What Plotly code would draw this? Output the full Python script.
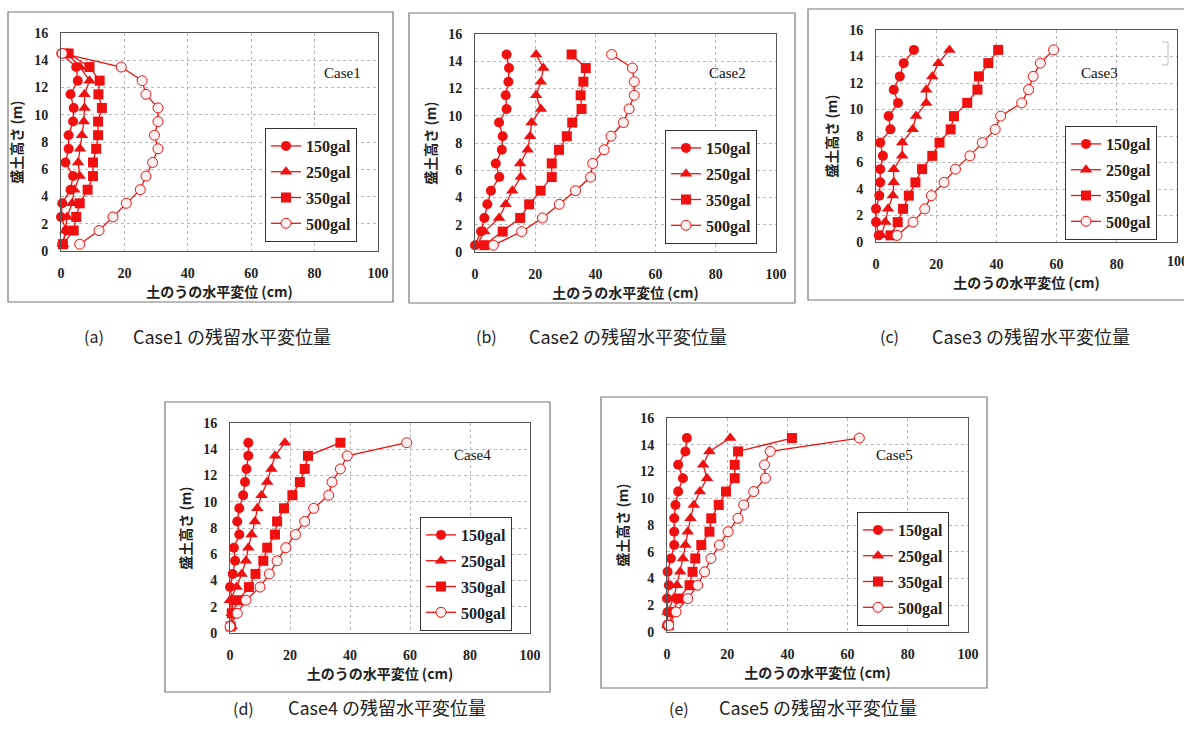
import plotly.graph_objects as go

# Height levels of the sandbag layers (m)
heights = [0.5, 1.5, 2.5, 3.5, 4.5, 5.5, 6.5, 7.5, 8.5, 9.5, 10.5, 11.5, 12.5, 13.5, 14.5]
levels = ["150gal", "250gal", "350gal", "500gal"]
case_names = ["Case1", "Case2", "Case3", "Case4", "Case5"]
panel_tags = ["(a)", "(b)", "(c)", "(d)", "(e)"]
caption_suffix = "の残留水平変位量"
x_ticks = [0, 20, 40, 60, 80, 100]
y_ticks = [0, 2, 4, 6, 8, 10, 12, 14, 16]

# Residual horizontal displacement (cm), listed from bottom layer to top layer
c1_150 = [0.4, 1.7, 0.0, 0.4, 3.0, 3.8, 1.4, 2.4, 2.4, 3.8, 4.0, 3.0, 5.3, 4.8, 0.1]
c1_250 = [0.6, 1.4, 1.9, 3.5, 4.2, 5.9, 5.4, 6.0, 6.6, 7.2, 7.4, 7.4, 9.0, 6.0, 2.0]
c1_350 = [0.6, 4.0, 4.8, 5.9, 8.4, 10.1, 10.1, 11.1, 11.7, 11.7, 12.9, 11.8, 12.2, 9.0, 2.4]
c1_500 = [5.9, 12.0, 16.4, 20.6, 25.0, 26.8, 28.9, 30.6, 29.5, 30.6, 30.6, 26.8, 25.6, 19.0, 0.4]

c2_150 = [0.0, 2.0, 3.1, 4.1, 5.3, 8.1, 6.9, 8.9, 9.2, 8.0, 10.5, 10.2, 11.1, 11.3, 10.5]
c2_250 = [0.6, 3.1, 8.0, 10.2, 12.4, 15.2, 15.0, 17.5, 18.3, 18.8, 21.9, 20.3, 21.9, 22.7, 20.3]
c2_350 = [3.1, 9.2, 15.0, 18.0, 21.8, 25.5, 25.5, 27.9, 30.5, 32.3, 35.4, 35.1, 36.0, 36.8, 32.1]
c2_500 = [6.1, 15.5, 22.4, 28.0, 33.4, 38.4, 39.1, 42.9, 45.2, 49.3, 51.2, 52.9, 52.9, 52.3, 45.4]

c3_150 = [0.9, 0.0, 0.0, 1.1, 1.4, 1.4, 2.3, 1.4, 4.8, 4.2, 7.3, 5.9, 7.9, 9.2, 12.6]
c3_250 = [1.8, 3.1, 4.0, 5.6, 5.9, 5.9, 8.7, 8.7, 12.2, 13.3, 16.7, 16.7, 18.7, 20.7, 24.4]
c3_350 = [4.8, 7.2, 9.0, 10.9, 13.1, 15.3, 18.7, 21.1, 24.8, 25.9, 30.3, 33.7, 34.2, 37.3, 40.6]
c3_500 = [7.0, 12.3, 16.2, 18.4, 22.6, 26.4, 31.2, 35.3, 39.6, 41.4, 48.4, 50.7, 52.2, 54.6, 59.0]

c4_150 = [0.4, 0.8, 0.8, 0.0, 0.9, 1.7, 1.3, 3.1, 2.4, 3.1, 4.4, 5.0, 5.5, 6.1, 6.1]
c4_250 = [0.6, 0.6, 0.0, 2.2, 3.9, 5.3, 6.1, 7.2, 8.3, 9.1, 10.5, 12.4, 13.8, 15.0, 18.3]
c4_350 = [0.2, 0.6, 2.8, 6.3, 8.5, 11.1, 12.4, 15.0, 15.7, 18.0, 20.8, 23.3, 24.9, 26.0, 36.8]
c4_500 = [0.0, 2.4, 5.3, 10.0, 13.1, 15.7, 18.6, 21.8, 24.9, 27.9, 32.9, 34.0, 36.8, 39.1, 58.9]

c5_150 = [0.0, 0.2, 0.0, 0.6, 0.2, 1.3, 2.4, 2.4, 2.4, 2.8, 3.7, 5.3, 3.7, 6.1, 6.6]
c5_250 = [0.2, 0.2, 2.2, 3.3, 4.4, 5.3, 6.1, 6.9, 7.8, 8.9, 10.9, 13.3, 12.0, 14.1, 21.0]
c5_350 = [0.6, 2.0, 3.9, 7.5, 8.5, 9.4, 11.4, 14.1, 14.7, 17.2, 19.6, 22.5, 22.5, 23.6, 41.5]
c5_500 = [0.6, 3.0, 6.9, 10.2, 12.5, 14.6, 17.4, 20.3, 23.6, 25.5, 28.8, 32.7, 32.4, 34.3, 63.9]

case_data = [
    [c1_150, c1_250, c1_350, c1_500],
    [c2_150, c2_250, c2_350, c2_500],
    [c3_150, c3_250, c3_350, c3_500],
    [c4_150, c4_250, c4_350, c4_500],
    [c5_150, c5_250, c5_350, c5_500],
]

W, H = 1184, 735
RED = "#F01010"

# Plot areas (pixel boxes: left, top, right, bottom)
plot_px = [
    (61, 33, 378, 251),
    (475, 34, 776, 252),
    (876, 30, 1177, 242),
    (230, 423, 530, 633),
    (667, 418, 968, 632),
]
# Outer frames around each panel
frame_px = [
    (8, 12, 393, 302),
    (409, 13, 795, 303),
    (808, 9, 1190, 300),
    (165, 402, 550, 692),
    (601, 397, 987, 688),
]
legend_px = [(265, 128), (665, 130), (1065, 126), (420, 517), (857, 512)]
case_label_px = [(322, 63), (727, 63), (1120, 63), (472, 455), (915, 455)]
caption_px = [(82, 131, 336), (474, 527, 336), (878, 930, 336), (231, 286, 722), (667, 717, 722)]

marker_styles = [
    dict(symbol="circle", size=10, color=RED, line=dict(width=0)),
    dict(symbol="triangle-up", size=11, color=RED, line=dict(width=0)),
    dict(symbol="square", size=10, color=RED, line=dict(width=0)),
    dict(symbol="circle", size=10, color="#FFF2F2", line=dict(width=1, color=RED)),
]


def fx(px):
    return px / W


def fy(py):
    return 1 - py / H


fig = go.Figure()
layout = dict(
    width=W, height=H,
    margin=dict(l=0, r=0, t=0, b=0, autoexpand=False),
    paper_bgcolor="white", plot_bgcolor="white",
    shapes=[], annotations=[],
)

tick_font = dict(family="Liberation Serif", size=14, color="#222", weight="bold")
title_font = dict(family="Noto Sans CJK JP", size=14, color="#222", weight="bold")

for i, (series, case) in enumerate(zip(case_data, case_names)):
    n = "" if i == 0 else str(i + 1)
    xa, ya = "x" + n, "y" + n
    lg = "legend" + n
    for j, (vals, lvl) in enumerate(zip(series, levels)):
        fig.add_trace(go.Scatter(
            x=vals, y=heights, xaxis=xa, yaxis=ya,
            mode="lines+markers", name=lvl, legend=lg,
            legendgroup=f"{case}-{lvl}",
            line=dict(color=RED, width=1.3),
            marker=marker_styles[j],
            cliponaxis=False,
        ))
    l, t, r, b = plot_px[i]
    layout["xaxis" + n] = dict(
        domain=[fx(l), fx(r)], anchor=ya, range=[0, 100], automargin=False,
        tickvals=x_ticks, ticks="", showline=True, linecolor="#555", linewidth=1,
        mirror=True, showgrid=True, gridcolor="#b8b8b8", griddash="dot",
        zeroline=False, tickfont=tick_font, ticklabelstandoff=9,
        title=dict(text="土のうの水平変位 (cm)", font=title_font, standoff=7),
    )
    layout["yaxis" + n] = dict(
        domain=[fy(b), fy(t)], anchor=xa, range=[0, 16], automargin=False,
        tickvals=y_ticks, ticks="", showline=True, linecolor="#555", linewidth=1,
        mirror=True, showgrid=True, gridcolor="#b8b8b8", griddash="dot",
        zeroline=False, tickfont=tick_font, ticklabelstandoff=9,
        title=dict(text="盛土高さ (m)", font=title_font, standoff=8),
    )
    lx, ly = legend_px[i]
    layout[lg] = dict(
        x=fx(lx), y=fy(ly), xanchor="left", yanchor="top",
        bgcolor="white", bordercolor="#333", borderwidth=1,
        font=dict(family="Liberation Serif", size=16, color="#222", weight="bold"),
        itemwidth=30, traceorder="grouped", tracegroupgap=2,
    )
    # panel frame
    fl, ft, fr, fb = frame_px[i]
    layout["shapes"].append(dict(
        type="rect", xref="paper", yref="paper",
        x0=fx(fl), x1=fx(fr), y0=fy(fb), y1=fy(ft),
        line=dict(color="#777", width=1.2), layer="below",
    ))
    cx, cy = case_label_px[i]
    layout["annotations"].append(dict(
        text=case, x=fx(cx), y=fy(cy), xref="paper", yref="paper",
        showarrow=False, font=dict(family="Liberation Serif", size=15, color="#111"),
    ))
    tx, sx, sy = caption_px[i]
    layout["annotations"].append(dict(
        text=panel_tags[i], x=fx(tx), y=fy(sy), xref="paper", yref="paper",
        xanchor="left", showarrow=False,
        font=dict(family="Noto Sans CJK JP", size=16, color="#222"),
    ))
    layout["annotations"].append(dict(
        text=f"{case} {caption_suffix}", x=fx(sx), y=fy(sy), xref="paper", yref="paper",
        xanchor="left", showarrow=False,
        font=dict(family="Noto Sans CJK JP", size=18, color="#222"),
    ))

# last x tick label of the Case3 panel runs past the page edge
layout["annotations"].append(dict(
    text=str(x_ticks[-1]), x=x_ticks[-1], xref="x3", y=fy(plot_px[2][3] + 19), yref="paper",
    showarrow=False, font=tick_font,
))

# faint bracket mark inside the Case3 panel
layout["shapes"].append(dict(
    type="path", xref="paper", yref="paper",
    path=f"M {fx(1162)},{fy(42)} L {fx(1168)},{fy(42)} L {fx(1168)},{fy(65)} L {fx(1162)},{fy(65)}",
    line=dict(color="#bbb", width=1),
))

fig.update_layout(**layout)
fig.write_html("out.html")
